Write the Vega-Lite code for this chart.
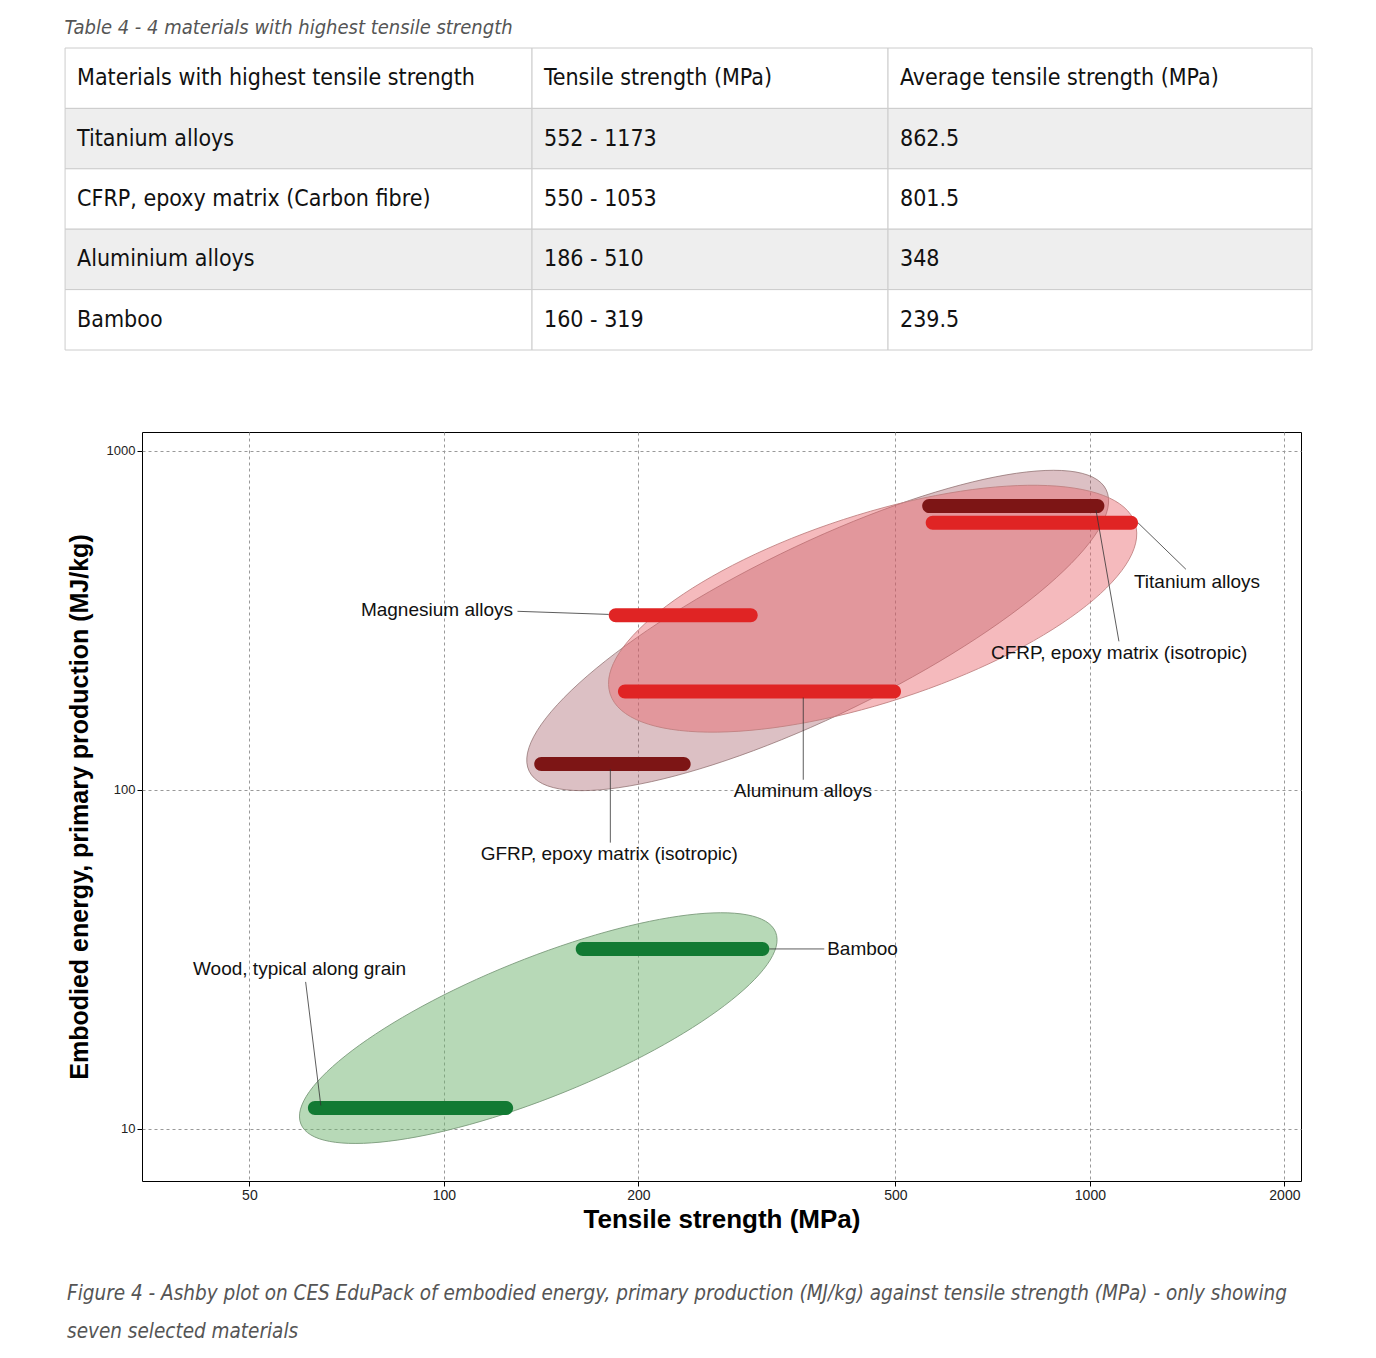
{
  "$schema": "https://vega.github.io/schema/vega-lite/v6.json",
  "background": "#ffffff",
  "padding": {"left": 64, "top": 17, "right": 20, "bottom": 10},
  "spacing": 80,
  "datasets": {
    "table": [
      {"r": 0, "c1": "Materials with highest tensile strength", "c2": "Tensile strength (MPa)", "c3": "Average tensile strength (MPa)"},
      {"r": 1, "c1": "Titanium alloys", "c2": "552 - 1173", "c3": "862.5"},
      {"r": 2, "c1": "CFRP, epoxy matrix (Carbon fibre)", "c2": "550 - 1053", "c3": "801.5"},
      {"r": 3, "c1": "Aluminium alloys", "c2": "186 - 510", "c3": "348"},
      {"r": 4, "c1": "Bamboo", "c2": "160 - 319", "c3": "239.5"}
    ],
    "cols": [
      {"key": "c1", "x0": 0, "x1": 0.3745},
      {"key": "c2", "x0": 0.3745, "x1": 0.66},
      {"key": "c3", "x0": 0.66, "x1": 1}
    ],
    "envelopes": [
      {"group": "composites", "x": 379, "y": 295},
      {"group": "metals", "x": 461, "y": 342},
      {"group": "natural", "x": 140, "y": 19.8}
    ],
    "materials": [
      {"name": "Titanium alloys", "kind": "metal", "xmin": 557, "xmax": 1187, "y": 613},
      {"name": "CFRP, epoxy matrix (isotropic)", "kind": "composite", "xmin": 550, "xmax": 1053, "y": 687},
      {"name": "Magnesium alloys", "kind": "metal", "xmin": 180, "xmax": 306, "y": 327},
      {"name": "Aluminum alloys", "kind": "metal", "xmin": 186, "xmax": 510, "y": 195},
      {"name": "GFRP, epoxy matrix (isotropic)", "kind": "composite", "xmin": 138, "xmax": 241, "y": 119},
      {"name": "Bamboo", "kind": "natural", "xmin": 160, "xmax": 319, "y": 33.9},
      {"name": "Wood, typical along grain", "kind": "natural", "xmin": 61.6, "xmax": 128, "y": 11.5}
    ],
    "labels": [
      {"name": "Titanium alloys", "lx": 1170, "ly": 410, "ax": 1187, "ay": 613, "bx": 1408, "by": 447},
      {"name": "CFRP, epoxy matrix (isotropic)", "lx": 703, "ly": 253, "ax": 1022, "ay": 668, "bx": 1109, "by": 274},
      {"name": "Magnesium alloys", "lx": 74.4, "ly": 340, "ax": 130, "ay": 336, "bx": 180, "by": 329},
      {"name": "Aluminum alloys", "lx": 281, "ly": 99, "ax": 360, "ay": 187, "bx": 360, "by": 107},
      {"name": "GFRP, epoxy matrix (isotropic)", "lx": 114, "ly": 64.4, "ax": 181, "ay": 115, "bx": 181, "by": 69.8},
      {"name": "Bamboo", "lx": 392, "ly": 33.9, "ax": 319, "ay": 33.9, "bx": 388, "by": 33.9},
      {"name": "Wood, typical along grain", "lx": 40.9, "ly": 29.6, "ax": 61.1, "ay": 27.1, "bx": 64.5, "by": 11.7}
    ]
  },
  "vconcat": [
    {
      "width": 1170,
      "height": 302,
      "view": {"stroke": null},
      "title": {
        "text": "Table 4 - 4 materials with highest tensile strength",
        "anchor": "start", "frame": "bounds", "offset": 10,
        "font": "Liberation Sans Narrow, DejaVu Sans Condensed, sans-serif",
        "fontStyle": "italic", "fontWeight": "normal", "fontSize": 20, "color": "#555555"
      },
      "data": {"name": "table"},
      "transform": [
        {"fold": ["c1", "c2", "c3"], "as": ["key", "label"]},
        {"lookup": "key", "from": {"data": {"name": "cols"}, "key": "key", "fields": ["x0", "x1"]}}
      ],
      "encoding": {
        "x": {"field": "x0", "type": "quantitative", "scale": {"domain": [0.0617, 1], "nice": false, "zero": false}, "axis": null},
        "y": {"field": "r", "type": "ordinal", "scale": {"paddingInner": 0, "paddingOuter": 0}, "axis": null}
      },
      "layer": [
        {
          "mark": {"type": "rect", "stroke": "#cccccc", "strokeWidth": 1, "clip": false},
          "encoding": {
            "x2": {"field": "x1"},
            "color": {"condition": {"test": "datum.r % 2 == 1", "value": "#eeeeee"}, "value": "#ffffff"}
          }
        },
        {
          "mark": {"type": "text", "align": "left", "dx": 12, "font": "Liberation Sans Narrow, DejaVu Sans Condensed, sans-serif", "fontSize": 23, "color": "#111111"},
          "encoding": {"text": {"field": "label"}}
        }
      ]
    },
    {
      "width": 1159,
      "height": 749,
      "view": {"stroke": "#000000", "strokeWidth": 1},
      "title": {
        "text": ["Figure 4 - Ashby plot on CES EduPack of embodied energy, primary production (MJ/kg) against tensile strength (MPa) - only showing", "seven selected materials"],
        "orient": "bottom", "anchor": "start", "frame": "bounds", "offset": 52, "lineHeight": 38,
        "font": "Liberation Sans Narrow, DejaVu Sans Condensed, sans-serif",
        "fontStyle": "italic", "fontWeight": "normal", "fontSize": 20.5, "color": "#555555"
      },
      "resolve": {"scale": {"color": "independent"}},
      "layer": [
        {
          "data": {"name": "envelopes"},
          "transform": [{"filter": "datum.group == 'composites'"}],
          "mark": {"type": "point", "filled": true, "fill": "#9a4b55", "fillOpacity": 0.35, "stroke": "#8a6a6a", "strokeWidth": 0.8, "strokeOpacity": 0.8,
                   "shape": "M-1,0A1,0.265 0 1,1 1,0A1,0.265 0 1,1 -1,0Z", "size": 412164, "angle": 334},
          "encoding": {
            "x": {"field": "x", "type": "quantitative",
                  "scale": {"type": "log", "domain": [34.1, 2122], "nice": false},
                  "title": "Tensile strength (MPa)",
                  "axis": {"values": [50, 100, 200, 500, 1000, 2000], "format": "d", "gridDash": [3, 3], "gridColor": "#999999",
                           "labelFont": "Liberation Sans", "labelFontSize": 14, "labelColor": "#222222", "tickColor": "#000000", "tickSize": 5,
                           "domain": false, "titleFont": "Liberation Sans", "titleFontSize": 26, "titleFontWeight": "bold", "titleColor": "#000000", "titlePadding": 4}},
            "y": {"field": "y", "type": "quantitative",
                  "scale": {"type": "log", "domain": [7.25, 1098], "nice": false},
                  "title": "Embodied energy, primary production (MJ/kg)",
                  "axis": {"values": [10, 100, 1000], "format": "d", "gridDash": [3, 3], "gridColor": "#999999",
                           "labelFont": "Liberation Sans", "labelFontSize": 13, "labelColor": "#222222", "tickColor": "#000000", "tickSize": 5,
                           "domain": false, "titleFont": "Liberation Sans", "titleFontSize": 25, "titleFontWeight": "bold", "titleColor": "#000000", "titlePadding": 14}}
          }
        },
        {
          "data": {"name": "envelopes"},
          "transform": [{"filter": "datum.group == 'metals'"}],
          "mark": {"type": "point", "filled": true, "fill": "#e8666d", "fillOpacity": 0.45, "stroke": "#c08080", "strokeWidth": 0.8,
                   "shape": "M-1,0A1,0.34 0 1,1 1,0A1,0.34 0 1,1 -1,0Z", "size": 304704, "angle": 342},
          "encoding": {
            "x": {"field": "x", "type": "quantitative"},
            "y": {"field": "y", "type": "quantitative"}
          }
        },
        {
          "data": {"name": "envelopes"},
          "transform": [{"filter": "datum.group == 'natural'"}],
          "mark": {"type": "point", "filled": true, "fill": "#6fb36f", "fillOpacity": 0.5, "stroke": "#7a9a7a", "strokeWidth": 0.8,
                   "shape": "M-1,0A1,0.27 0 1,1 1,0A1,0.27 0 1,1 -1,0Z", "size": 262144, "angle": 338},
          "encoding": {
            "x": {"field": "x", "type": "quantitative"},
            "y": {"field": "y", "type": "quantitative"}
          }
        },
        {
          "data": {"name": "materials"},
          "mark": {"type": "bar", "orient": "horizontal", "size": 14, "cornerRadius": 7},
          "encoding": {
            "x": {"field": "xmin", "type": "quantitative"},
            "x2": {"field": "xmax"},
            "y": {"field": "y", "type": "quantitative"},
            "color": {"field": "kind", "type": "nominal", "legend": null,
                      "scale": {"domain": ["metal", "composite", "natural"], "range": ["#e02424", "#7d1515", "#127a33"]}}
          }
        },
        {
          "data": {"name": "labels"},
          "mark": {"type": "rule", "color": "#333333", "strokeWidth": 0.8},
          "encoding": {
            "x": {"field": "ax", "type": "quantitative"},
            "y": {"field": "ay", "type": "quantitative"},
            "x2": {"field": "bx"},
            "y2": {"field": "by"}
          }
        },
        {
          "data": {"name": "labels"},
          "mark": {"type": "text", "align": "left", "baseline": "middle", "font": "Liberation Sans", "fontSize": 19, "color": "#111111"},
          "encoding": {
            "x": {"field": "lx", "type": "quantitative"},
            "y": {"field": "ly", "type": "quantitative"},
            "text": {"field": "name"}
          }
        }
      ]
    }
  ]
}
